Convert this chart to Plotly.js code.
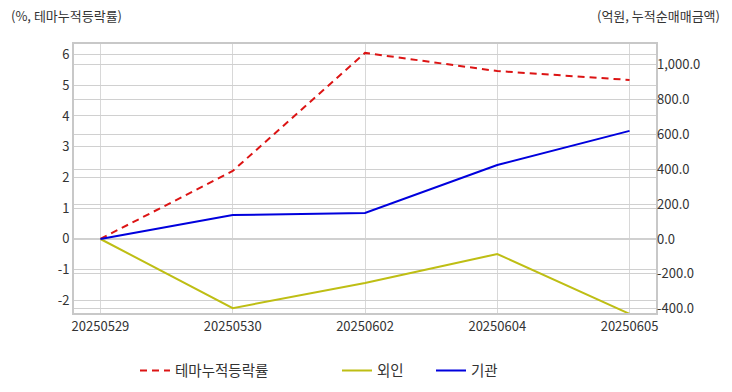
<!DOCTYPE html>
<html><head><meta charset="utf-8">
<script src="https://cdn.plot.ly/plotly-3.0.1.min.js"></script>
<style>body{margin:0;background:#fff}#c{width:732px;height:392px}</style>
</head><body><div id="c"></div>
<script>
const dates = ['20250529','20250530','20250602','20250604','20250605'];
const themeRate = [0, 2.21, 6.05, 5.46, 5.17];
const foreign = [0, -397, -253, -86, -430];
const institution = [0, 138, 149, 425, 621];
const leftTicks = [-2,-1,0,1,2,3,4,5,6];
const rightTicks = [-400,-200,0,200,400,600,800,1000];

const fam = '"Noto Sans CJK KR", "Noto Sans", sans-serif';
const font = {family: fam, size: 13, color: '#333'};
const legFont = {family: fam, size: 14.5, color: '#333'};
const traces = [
  {x: dates, y: themeRate, name: '테마누적등락률', type: 'scatter', mode: 'lines',
   line: {color: '#dc1414', width: 2, dash: '7px,5px'}, yaxis: 'y', legend: 'legend'},
  {x: dates, y: foreign, name: '외인', type: 'scatter', mode: 'lines',
   line: {color: '#bebe14', width: 2}, yaxis: 'y2', legend: 'legend2'},
  {x: dates, y: institution, name: '기관', type: 'scatter', mode: 'lines',
   line: {color: '#0000dd', width: 2}, yaxis: 'y2', legend: 'legend3'}
];
function leg(px) {
  return {orientation: 'h', x: (px - 74) / 582, xanchor: 'left', y: -0.155, yanchor: 'top',
          font: legFont, bgcolor: 'rgba(0,0,0,0)'};
}
const layout = {
  width: 732, height: 392,
  margin: {l: 74, r: 76, t: 44, b: 79, autoexpand: false},
  paper_bgcolor: '#fff', plot_bgcolor: '#fff',
  font: font,
  showlegend: true,
  legend: leg(135), legend2: leg(337), legend3: leg(431),
  xaxis: {type: 'category', range: [-0.2, 4.2], showgrid: true, gridcolor: '#d8d8d8',
          tickvals: dates, ticktext: dates, showline: true, linecolor: '#c8c8c8', linewidth: 2, mirror: true,
          ticks: '', tickfont: font, zeroline: false, automargin: false},
  yaxis: {range: [-2.41, 6.34], tickvals: leftTicks, ticktext: leftTicks.map(String), showgrid: true, gridcolor: '#d0d0d0',
          zeroline: false, showline: true, linecolor: '#c8c8c8', linewidth: 2, mirror: true, ticks: '',
          tickfont: font, automargin: false},
  yaxis2: {range: [-425, 1120], tickvals: rightTicks,
           ticktext: rightTicks.map(v => v.toLocaleString('en-US', {minimumFractionDigits: 1, maximumFractionDigits: 1})),
           overlaying: 'y', side: 'right',
           showgrid: true, gridcolor: '#d0d0d0', zeroline: false, ticks: '', tickfont: font, automargin: false},
  annotations: [
    {text: '(%, 테마누적등락률)', xref: 'paper', yref: 'paper', x: -0.111, y: 1.105, xanchor: 'left', yanchor: 'middle',
     showarrow: false, font: font},
    {text: '(억원, 누적순매매금액)', xref: 'paper', yref: 'paper', x: 1.114, y: 1.105, xanchor: 'right', yanchor: 'middle',
     showarrow: false, font: font}
  ]
};
Plotly.newPlot('c', traces, layout, {displayModeBar: false, staticPlot: true});
</script></body></html>
